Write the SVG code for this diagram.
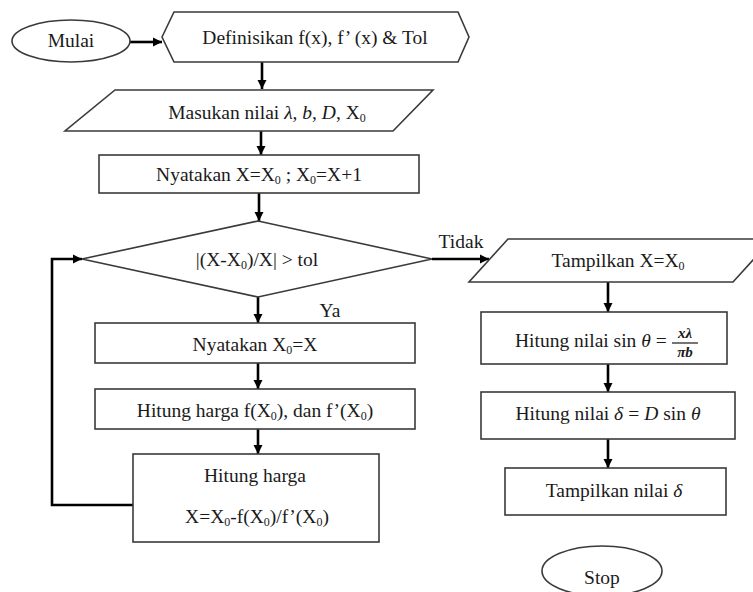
<svg xmlns="http://www.w3.org/2000/svg" width="753" height="592" viewBox="0 0 753 592">
<defs>
<marker id="arr" markerUnits="userSpaceOnUse" markerWidth="10" markerHeight="10" refX="9" refY="5" orient="auto">
<path d="M0,0.5 L9,5 L0,9.5 z" fill="#000"/>
</marker>
<style>
.shape{fill:#fff;stroke:#3a3a3a;stroke-width:1.6}
.conn{fill:none;stroke:#000;stroke-width:2.6;marker-end:url(#arr)}
text{font-family:"Liberation Serif","Times New Roman",serif;font-size:19.5px;fill:#1a1a1a;text-anchor:middle}
.m{font-style:italic}
.sub{font-size:12px}
.frac{font-size:15px;font-style:italic;font-weight:bold}
</style>
</defs>
<rect width="753" height="592" fill="#fff"/>

<g id="connectors">
<line class="conn" x1="130" y1="42" x2="162" y2="42"/>
<line class="conn" x1="262" y1="62" x2="262" y2="89"/>
<line class="conn" x1="261" y1="131" x2="261" y2="155"/>
<line class="conn" x1="259" y1="193" x2="259" y2="221"/>
<line class="conn" x1="258" y1="297" x2="258" y2="323"/>
<line class="conn" x1="258" y1="363" x2="258" y2="389"/>
<line class="conn" x1="258" y1="429" x2="258" y2="454"/>
<polyline class="conn" points="133,505 52,505 52,259 82,259"/>
<line class="conn" x1="432" y1="259" x2="489" y2="259"/>
<line class="conn" x1="608" y1="282" x2="608" y2="312"/>
<line class="conn" x1="608" y1="364" x2="608" y2="392"/>
<line class="conn" x1="608" y1="439" x2="608" y2="468"/>
<text x="461" y="248">Tidak</text>
<text x="330" y="317">Ya</text>
</g>

<g id="mulai">
<ellipse class="shape" cx="71" cy="41" rx="59" ry="21"/>
<text x="71" y="47">Mulai</text>
</g>

<g id="definisikan">
<polygon class="shape" points="162,37 174,12 458,12 469,37 458,62 174,62"/>
<text x="315" y="44">Definisikan f(x), f’ (x) &amp; Tol</text>
</g>

<g id="masukan">
<polygon class="shape" points="115,90 433,90 393,131 65,131"/>
<text x="267" y="119">Masukan nilai <tspan class="m">λ</tspan>, <tspan class="m">b</tspan>, <tspan class="m">D</tspan>, X<tspan class="sub" dy="3">0</tspan></text>
</g>

<g id="nyatakan1">
<rect class="shape" x="99" y="155" width="320" height="38"/>
<text x="259" y="181">Nyatakan X=X<tspan class="sub" dy="3">0</tspan><tspan dy="-3"> ; X</tspan><tspan class="sub" dy="3">0</tspan><tspan dy="-3">=X+1</tspan></text>
</g>

<g id="cek">
<polygon class="shape" points="258,221 432,259 258,297 82,259"/>
<text x="257" y="266">|(X-X<tspan class="sub" dy="3">0</tspan><tspan dy="-3">)/X| &gt; tol</tspan></text>
</g>

<g id="nyatakan2">
<rect class="shape" x="95" y="323" width="320" height="40"/>
<text x="255" y="351">Nyatakan X<tspan class="sub" dy="3">0</tspan><tspan dy="-3">=X</tspan></text>
</g>

<g id="hitung1">
<rect class="shape" x="95" y="389" width="320" height="40"/>
<text x="255" y="417">Hitung harga f(X<tspan class="sub" dy="3">0</tspan><tspan dy="-3">), dan f’(X</tspan><tspan class="sub" dy="3">0</tspan><tspan dy="-3">)</tspan></text>
</g>

<g id="hitung2">
<rect class="shape" x="133" y="454" width="246" height="88"/>
<text x="255" y="482">Hitung harga</text>
<text x="257" y="523">X=X<tspan class="sub" dy="3">0</tspan><tspan dy="-3">-f(X</tspan><tspan class="sub" dy="3">0</tspan><tspan dy="-3">)/f’(X</tspan><tspan class="sub" dy="3">0</tspan><tspan dy="-3">)</tspan></text>
</g>

<g id="tampilkan1">
<polygon class="shape" points="508,239 772,239 733,282 469,282"/>
<text x="618" y="267">Tampilkan X=X<tspan class="sub" dy="3">0</tspan></text>
</g>

<g id="sin">
<rect class="shape" x="481" y="312" width="246" height="52"/>
<text x="515" y="347" style="text-anchor:start">Hitung nilai sin <tspan class="m">θ</tspan><tspan dx="5">=</tspan></text>
<text class="frac" x="685" y="338">xλ</text>
<line x1="672" y1="343" x2="698" y2="343" stroke="#1a1a1a" stroke-width="1.2"/>
<text class="frac" x="685" y="357">πb</text>
</g>

<g id="delta">
<rect class="shape" x="481" y="392" width="254" height="47"/>
<text x="608" y="420">Hitung nilai <tspan class="m">δ</tspan><tspan dx="5">=</tspan><tspan class="m" dx="5">D</tspan><tspan dx="5">sin </tspan><tspan class="m">θ</tspan></text>
</g>

<g id="tampilkan2">
<rect class="shape" x="505" y="468" width="221" height="47"/>
<text x="614" y="497">Tampilkan nilai <tspan class="m">δ</tspan></text>
</g>

<g id="stop">
<ellipse class="shape" cx="602" cy="571" rx="60" ry="25"/>
<text x="602" y="584">Stop</text>
</g>
</svg>
